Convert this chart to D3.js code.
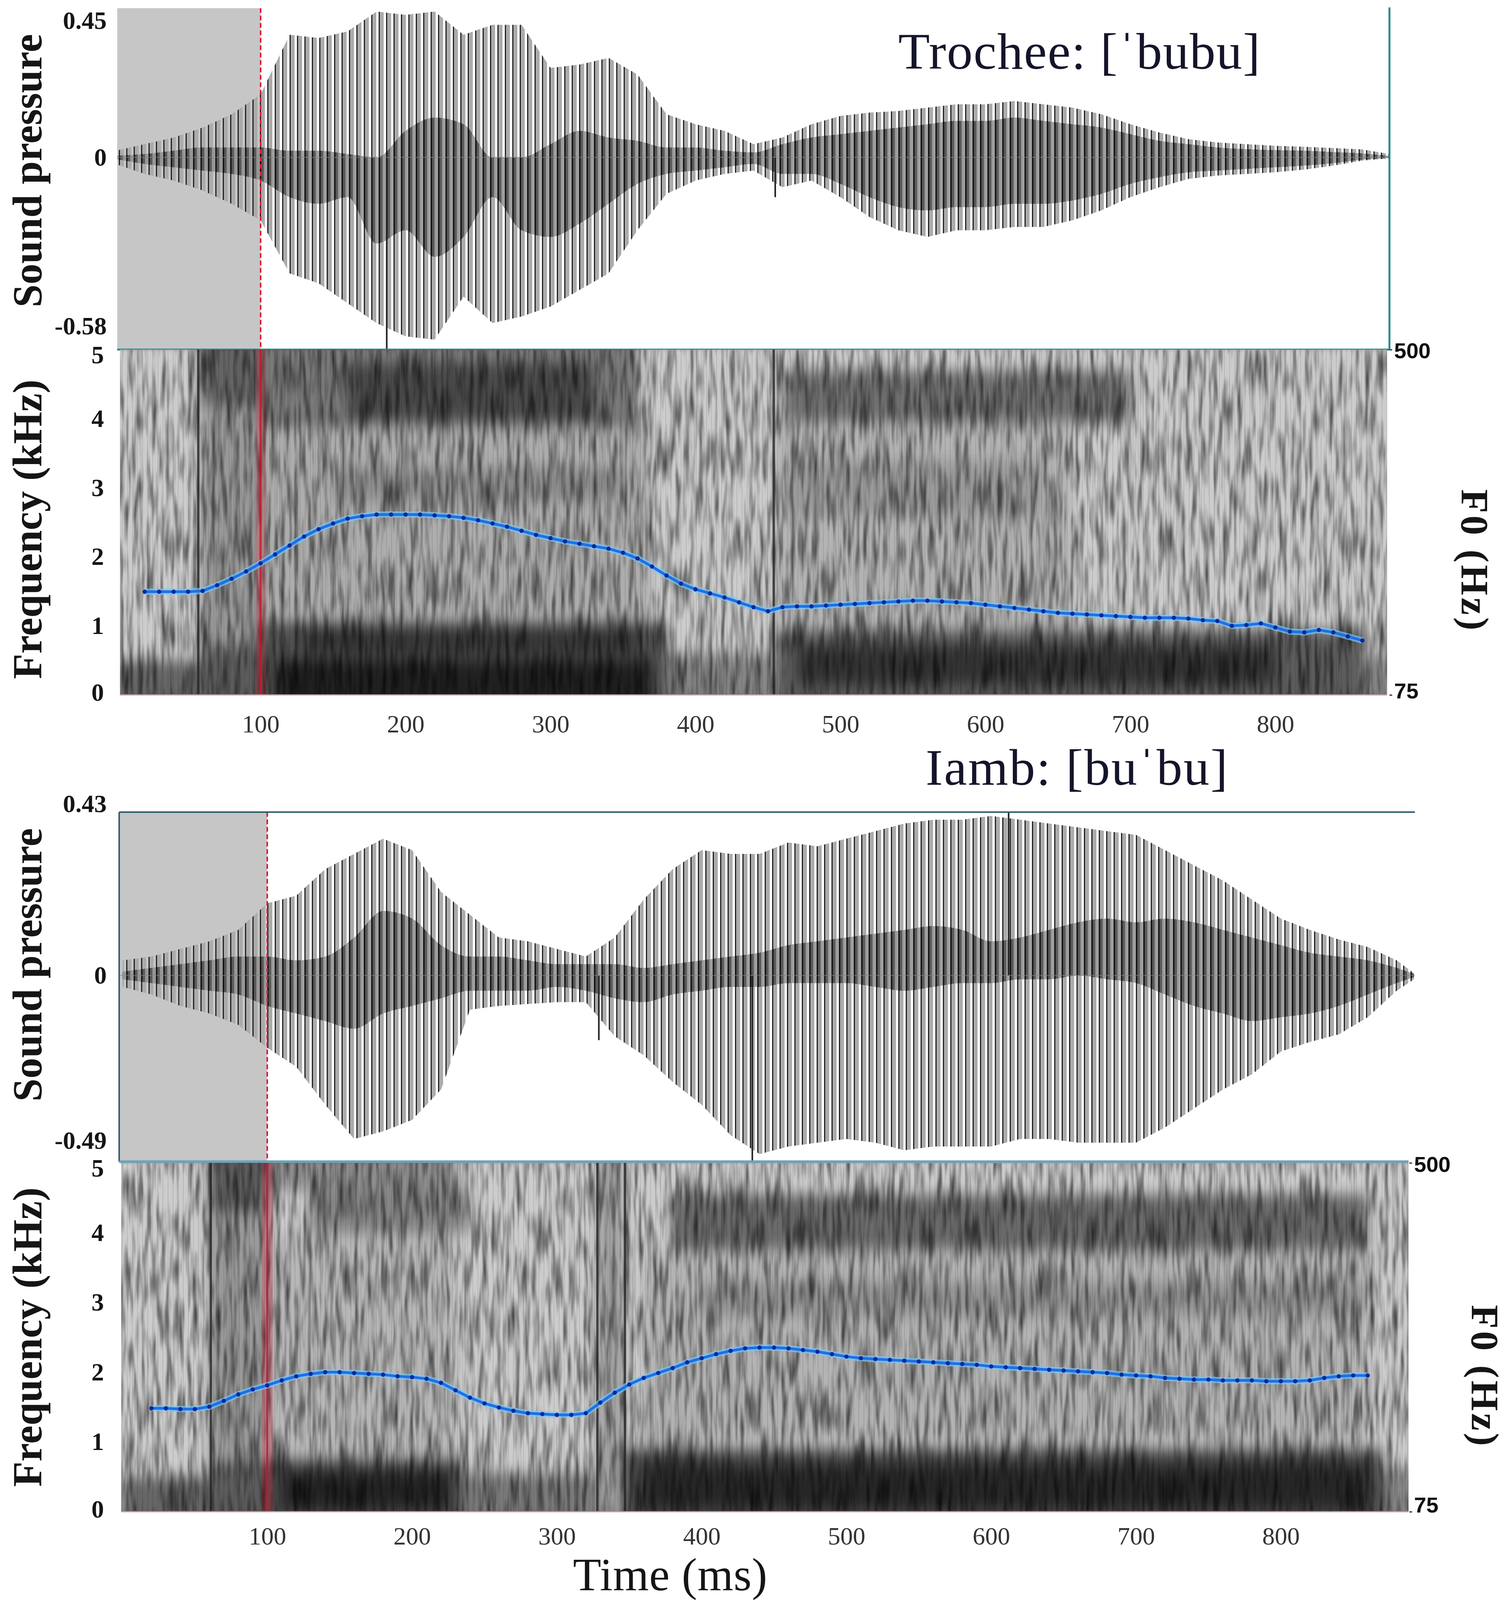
<!DOCTYPE html>
<html>
<head>
<meta charset="utf-8">
<script src="https://cdn.jsdelivr.net/npm/d3@7"></script>
<style>
  body { margin: 0; background: #fff; }
  svg { display: block; }
</style>
</head>
<body>
<script>
// ---------- values ----------
// waveform envelopes (ms, sound pressure), sampled every 20 ms
const trocheeEnvTime = [0,20,40,60,80,100,120,140,160,180,200,220,240,260,280,300,320,340,360,380,400,420,440,460,480,500,520,540,560,580,600,620,640,660,680,700,720,740,760,780,800,820,840,860,879]
const trocheeUpper = [.02,.04,.06,.09,.13,.19,.37,.36,.38,.44,.43,.44,.37,.40,.40,.27,.28,.30,.25,.13,.10,.08,.04,.06,.10,.125,.135,.14,.15,.16,.16,.17,.16,.15,.13,.10,.075,.055,.045,.04,.035,.032,.028,.024,.01]
const trocheeLower = [-.02,-.05,-.07,-.10,-.14,-.19,-.35,-.38,-.44,-.50,-.54,-.55,-.42,-.50,-.48,-.45,-.40,-.35,-.22,-.11,-.07,-.05,-.04,-.09,-.07,-.12,-.18,-.22,-.24,-.22,-.22,-.21,-.21,-.19,-.16,-.12,-.09,-.065,-.055,-.05,-.045,-.037,-.025,-.01,-.003]
const trocheeCoreUpper = [.005,.01,.02,.03,.03,.03,.02,.02,.01,.0,.08,.12,.10,.0,.0,.04,.08,.06,.05,.03,.03,.02,.015,.04,.06,.07,.08,.09,.10,.11,.11,.12,.11,.10,.09,.07,.05,.04,.03,.025,.022,.02,.016,.012,.004]
const trocheeCoreLower = [-.005,-.02,-.03,-.04,-.05,-.07,-.12,-.14,-.12,-.26,-.22,-.30,-.24,-.12,-.22,-.24,-.20,-.14,-.08,-.05,-.04,-.03,-.02,-.05,-.05,-.08,-.12,-.15,-.16,-.15,-.15,-.14,-.14,-.13,-.11,-.08,-.06,-.045,-.04,-.035,-.03,-.025,-.018,-.007,-.002]
const trocheeSpikes = [[187, -0.58], [455, -0.12]]

const iambEnvTime = [0,20,40,60,80,100,120,140,160,180,200,220,240,260,280,300,320,340,360,380,400,420,440,460,480,500,520,540,560,580,600,620,640,660,680,700,720,740,760,780,800,820,840,860,880,892]
const iambUpper = [.04,.05,.07,.09,.12,.19,.21,.28,.32,.36,.33,.22,.16,.10,.09,.07,.05,.10,.20,.28,.33,.32,.32,.35,.34,.36,.38,.40,.41,.41,.42,.41,.40,.39,.38,.37,.33,.29,.25,.20,.15,.12,.095,.075,.04,.006]
const iambLower = [-.03,-.05,-.08,-.10,-.13,-.19,-.24,-.34,-.43,-.41,-.38,-.30,-.09,-.08,-.075,-.07,-.07,-.16,-.21,-.28,-.34,-.42,-.47,-.45,-.44,-.43,-.44,-.46,-.45,-.45,-.45,-.43,-.43,-.44,-.44,-.44,-.40,-.35,-.30,-.26,-.20,-.175,-.155,-.11,-.04,-.01]
const iambCoreUpper = [.01,.02,.03,.04,.05,.05,.04,.05,.10,.17,.15,.08,.05,.05,.04,.03,.03,.03,.02,.03,.04,.05,.06,.08,.09,.10,.11,.12,.13,.12,.09,.10,.12,.14,.15,.14,.15,.14,.12,.10,.08,.06,.05,.04,.02,.004]
const iambCoreLower = [-.01,-.02,-.03,-.04,-.05,-.08,-.10,-.12,-.14,-.10,-.08,-.06,-.04,-.04,-.04,-.03,-.04,-.06,-.07,-.05,-.04,-.03,-.03,-.02,-.02,-.02,-.03,-.04,-.03,-.02,-.02,-.01,-.01,-.0,-.01,-.02,-.05,-.08,-.10,-.12,-.11,-.10,-.08,-.05,-.02,-.004]
const iambSpikes = [[435, -0.49], [612, 0.43], [329, -0.17]]

// F0 contours (ms, Hz), one pitch frame every 10 ms
const trocheeF0Time = [20,30,40,50,60,70,80,90,100,110,120,130,140,150,160,170,180,190,200,210,220,230,240,250,260,270,280,290,300,310,320,330,340,350,360,370,380,390,400,410,420,430,440,450,460,470,480,490,500,510,520,530,540,550,560,570,580,590,600,610,620,630,640,650,660,670,680,690,700,710,720,730,740,750,760,770,780,790,800,810,820,830,840,850,860]
const trocheeF0 = [202,202,202,202,203,210,218,227,237,248,259,270,279,286,292,295,297,297,297,297,296,295,293,290,286,282,277,272,268,264,261,258,255,250,243,233,222,212,205,200,195,189,183,178,183,184,184,185,186,187,188,189,190,191,191,190,189,188,186,184,182,180,178,176,175,174,173,172,171,170,170,170,169,167,166,160,161,163,158,153,152,155,152,147,142]
const iambF0Time = [20,30,40,50,60,70,80,90,100,110,120,130,140,150,160,170,180,190,200,210,220,230,240,250,260,270,280,290,300,310,320,330,340,350,360,370,380,390,400,410,420,430,440,450,460,470,480,490,500,510,520,530,540,550,560,570,580,590,600,610,620,630,640,650,660,670,680,690,700,710,720,730,740,750,760,770,780,790,800,810,820,830,840,850,860]
const iambF0 = [201,201,200,200,203,210,218,224,229,235,240,243,245,245,244,243,242,240,239,237,232,223,214,207,202,198,195,194,193,193,195,208,220,230,238,244,250,257,262,267,271,274,275,275,274,272,270,267,264,262,261,260,259,258,257,256,255,254,252,251,250,249,248,247,246,245,244,242,241,240,238,237,236,236,235,235,235,234,234,234,235,238,240,241,241]

// spectrogram energy: [from ms, to ms, low kHz, high kHz, darkness]
const trocheeBands = [
  [0, 58, 0, 0.5, 0.5], [58, 100, 0, 5, 0.25], [58, 100, 4.2, 5, 0.35], [58, 100, 0, 0.7, 0.4],
  [100, 380, 0, 1.05, 0.6], [110, 370, 0, 0.5, 0.6], [130, 360, 0.6, 0.95, 0.35],
  [100, 370, 1.0, 4.0, 0.15], [100, 360, 3.9, 5, 0.4], [160, 330, 4.0, 4.8, 0.4],
  [150, 350, 2.8, 3.3, 0.18], [380, 453, 0, 0.6, 0.35],
  [455, 860, 0, 0.95, 0.55], [470, 800, 0.15, 0.7, 0.45], [455, 660, 1.0, 3.9, 0.12],
  [460, 700, 3.95, 4.7, 0.45], [460, 640, 2.6, 3.4, 0.14], [860, 880, 0, 0.6, 0.35]
]
const iambBands = [
  [0, 60, 0, 0.5, 0.5], [60, 100, 0, 5, 0.25], [60, 100, 4.3, 5, 0.4], [60, 100, 0, 0.7, 0.4],
  [100, 235, 0, 0.75, 0.65], [110, 225, 0.05, 0.55, 0.5], [100, 230, 0.75, 4.0, 0.1],
  [130, 240, 4.0, 4.6, 0.35], [100, 230, 4.6, 5, 0.3], [235, 328, 0, 0.55, 0.4],
  [328, 346, 0, 5, 0.22], [346, 870, 0, 0.9, 0.65], [360, 860, 0.05, 0.65, 0.45],
  [360, 860, 1.0, 3.7, 0.12], [380, 860, 3.75, 4.55, 0.48], [400, 860, 2.8, 3.3, 0.18],
  [870, 892, 0, 0.6, 0.35]
]
const trocheeBursts = [57, 454]
const iambBursts = [61, 328, 347]

const timeTicks = [100, 200, 300, 400, 500, 600, 700, 800]
const kHzTicks = [0, 1, 2, 3, 4, 5]
const f0Ticks = [75, 500]

// ---------- page ----------
const W = 3862, H = 4102
const serif = "'Liberation Serif', 'Times New Roman', serif"
const sans = "'Liberation Sans', Arial, sans-serif"

const svg = d3.select("body").append("svg")
    .attr("width", W)
    .attr("height", H)
svg.append("rect").attr("width", W).attr("height", H).attr("fill", "#fff")

const defs = svg.append("defs")

// waveform stroke textures
let pl = defs.append("pattern").attr("id", "wvLight")
    .attr("patternUnits", "userSpaceOnUse").attr("width", 19).attr("height", 10)
pl.append("rect").attr("x", 0).attr("width", 3).attr("height", 10).attr("fill", "#222")
pl.append("rect").attr("x", 3).attr("width", 10).attr("height", 10).attr("fill", "#ababab")
let pd = defs.append("pattern").attr("id", "wvDark")
    .attr("patternUnits", "userSpaceOnUse").attr("width", 19).attr("height", 10)
pd.append("rect").attr("width", 19).attr("height", 10).attr("fill", "#8f8f8f")
pd.append("rect").attr("x", 0).attr("width", 4).attr("height", 10).attr("fill", "#111")
pd.append("rect").attr("x", 4).attr("width", 6).attr("height", 10).attr("fill", "#4a4a4a")

// spectrogram pulse striations
let ps = defs.append("pattern").attr("id", "striae")
    .attr("patternUnits", "userSpaceOnUse").attr("width", 13).attr("height", 10)
ps.append("rect").attr("width", 2).attr("height", 10).attr("fill", "#000").attr("opacity", 0.1)

// spectrogram speckle: soft vertical streaks
let nf = defs.append("filter").attr("id", "specNoise")
    .attr("x", 0).attr("y", 0).attr("width", 1).attr("height", 1)
    .attr("color-interpolation-filters", "sRGB")
nf.append("feTurbulence").attr("type", "fractalNoise")
    .attr("baseFrequency", "0.085 0.009").attr("numOctaves", 2).attr("seed", 11)
nf.append("feColorMatrix").attr("type", "matrix")
    .attr("values", "2.2 0 0 0 -0.3  2.2 0 0 0 -0.3  2.2 0 0 0 -0.3  0 0 0 0 0.5")
nf.append("feGaussianBlur").attr("stdDeviation", "1.2 3")

defs.append("filter").attr("id", "bandBlur")
    .attr("x", -0.1).attr("y", -0.1).attr("width", 1.2).attr("height", 1.2)
  .append("feGaussianBlur").attr("stdDeviation", "16 18")

const panels = [
  {
    id: "tro", envT: trocheeEnvTime, up: trocheeUpper, lo: trocheeLower,
    cUp: trocheeCoreUpper, cLo: trocheeCoreLower, spikes: trocheeSpikes,
    f0T: trocheeF0Time, f0: trocheeF0, bands: trocheeBands, bursts: trocheeBursts,
    ampDomain: [-0.58, 0.45], tickPx: [667, 3264],
    wave: {x0: 300, x1: 3556, y0: 21, y1: 895},
    spec: {x0: 307, x1: 3550, y0: 895, y1: 1779},
    ampShift: {top: 32, bottom: -60}, f0Shift: {top: 4, bottom: -9},
    xTickY: 1853, rightAxisX: 3556,
    title: {text: "Trochee: [ˈbubu]", x: 2299, y: 176, len: 926},
    soundY: 437, freqY: 1355, f0Label: [3774, 1436]
  },
  {
    id: "iam", envT: iambEnvTime, up: iambUpper, lo: iambLower,
    cUp: iambCoreUpper, cLo: iambCoreLower, spikes: iambSpikes,
    f0T: iambF0Time, f0: iambF0, bands: iambBands, bursts: iambBursts,
    ampDomain: [-0.49, 0.43], tickPx: [684, 3278],
    wave: {x0: 305, x1: 3621, y0: 2079, y1: 2974},
    spec: {x0: 310, x1: 3605, y0: 2977, y1: 3870},
    ampShift: {top: -21, bottom: -54}, f0Shift: {top: 5, bottom: -16},
    xTickY: 3932, rightAxisX: 3607,
    title: {text: "Iamb: [buˈbu]", x: 2369, y: 2009, len: 773},
    soundY: 2470, freqY: 3423, f0Label: [3800, 3524]
  }
]

panels.forEach(drawPanel)

// x axis title
svg.append("text")
    .attr("x", 1715).attr("y", 4071)
    .attr("text-anchor", "middle")
    .attr("font-family", serif).attr("font-size", 118)
    .attr("textLength", 497).attr("lengthAdjust", "spacing")
    .attr("fill", "#151515")
    .text("Time (ms)")

function drawPanel(p) {
  const g = svg.append("g")
  const x = d3.scaleLinear().domain([100, 800]).range(p.tickPx)
  const yA = d3.scaleLinear().domain(p.ampDomain).range([p.wave.y1, p.wave.y0])
  const yK = d3.scaleLinear().domain([0, 5]).range([p.spec.y1, p.spec.y0])
  const yF = d3.scaleLinear().domain([75, 500]).range([p.spec.y1, p.spec.y0])

  // ----- waveform -----
  defs.append("clipPath").attr("id", "cw" + p.id).append("rect")
      .attr("x", p.wave.x0).attr("y", p.wave.y0)
      .attr("width", p.wave.x1 - p.wave.x0).attr("height", p.wave.y1 - p.wave.y0)
  const wg = g.append("g").attr("clip-path", "url(#cw" + p.id + ")")

  wg.append("rect")
      .attr("x", p.wave.x0).attr("y", p.wave.y0)
      .attr("width", x(100) - p.wave.x0).attr("height", p.wave.y1 - p.wave.y0)
      .attr("fill", "#c6c6c6")

  const rows = p.envT.map((t, i) => ({t: t, u: p.up[i], l: p.lo[i], cu: p.cUp[i], cl: p.cLo[i]}))
  wg.append("path").datum(rows)
      .attr("d", d3.area().x(d => x(d.t)).y0(d => yA(d.l)).y1(d => yA(d.u)))
      .attr("fill", "url(#wvLight)")
  wg.append("path").datum(rows)
      .attr("d", d3.area().curve(d3.curveMonotoneX).x(d => x(d.t)).y0(d => yA(d.cl)).y1(d => yA(d.cu)))
      .attr("fill", "url(#wvDark)").attr("opacity", 0.85)

  wg.selectAll(".spike").data(p.spikes).join("line")
      .attr("x1", d => x(d[0])).attr("x2", d => x(d[0]))
      .attr("y1", yA(0)).attr("y2", d => yA(d[1]))
      .attr("stroke", "#202020").attr("stroke-width", 4)

  wg.append("line")
      .attr("x1", p.wave.x0).attr("x2", p.wave.x1)
      .attr("y1", yA(0)).attr("y2", yA(0))
      .attr("stroke", "#6e8e98").attr("stroke-width", 2).attr("opacity", 0.7)

  wg.append("line")
      .attr("x1", x(100)).attr("x2", x(100))
      .attr("y1", p.wave.y0).attr("y2", p.wave.y1)
      .attr("stroke", "#e3173c").attr("stroke-width", 4)
      .attr("stroke-dasharray", "12,7")

  // frame
  if (p.id === "tro") {
    g.append("line").attr("x1", p.wave.x1).attr("x2", p.wave.x1)
        .attr("y1", p.wave.y0 - 2).attr("y2", p.wave.y1)
        .attr("stroke", "#2b8a8a").attr("stroke-width", 5)
    g.append("line").attr("x1", p.wave.x0).attr("x2", p.wave.x1)
        .attr("y1", p.wave.y1).attr("y2", p.wave.y1)
        .attr("stroke", "#2b8a8a").attr("stroke-width", 5)
  } else {
    g.append("line").attr("x1", p.wave.x0).attr("x2", p.wave.x1)
        .attr("y1", p.wave.y0).attr("y2", p.wave.y0)
        .attr("stroke", "#33606e").attr("stroke-width", 4)
    g.append("line").attr("x1", p.wave.x0).attr("x2", p.wave.x0)
        .attr("y1", p.wave.y0).attr("y2", p.wave.y1)
        .attr("stroke", "#33606e").attr("stroke-width", 4)
    g.append("line").attr("x1", p.wave.x0).attr("x2", p.spec.x1)
        .attr("y1", p.wave.y1).attr("y2", p.wave.y1)
        .attr("stroke", "#6fa2b6").attr("stroke-width", 7)
  }

  // amplitude labels
  const ampAxis = g.append("g")
      .attr("transform", "translate(273,0)")
      .call(d3.axisLeft(yA).tickValues([p.ampDomain[1], 0, p.ampDomain[0]])
          .tickSize(0).tickPadding(0)
          .tickFormat(d => d === 0 ? "0" : d.toFixed(2)))
  ampAxis.select(".domain").remove()
  ampAxis.attr("font-family", serif).attr("font-size", 64).attr("font-weight", "bold")
  ampAxis.selectAll("text").attr("fill", "#151515")
      .attr("y", d => d === 0 ? 0 : (d > 0 ? p.ampShift.top : p.ampShift.bottom))

  // ----- spectrogram -----
  defs.append("clipPath").attr("id", "cs" + p.id).append("rect")
      .attr("x", p.spec.x0).attr("y", p.spec.y0)
      .attr("width", p.spec.x1 - p.spec.x0).attr("height", p.spec.y1 - p.spec.y0)
  const sg = g.append("g").attr("clip-path", "url(#cs" + p.id + ")")

  sg.append("rect")
      .attr("x", p.spec.x0).attr("y", p.spec.y0)
      .attr("width", p.spec.x1 - p.spec.x0).attr("height", p.spec.y1 - p.spec.y0)
      .attr("fill", "#999")
  sg.append("rect")
      .attr("x", p.spec.x0).attr("y", p.spec.y0)
      .attr("width", p.spec.x1 - p.spec.x0).attr("height", p.spec.y1 - p.spec.y0)
      .attr("fill", "#fff").attr("filter", "url(#specNoise)")

  sg.append("g").attr("filter", "url(#bandBlur)")
    .selectAll("rect").data(p.bands).join("rect")
      .attr("x", d => x(d[0]))
      .attr("width", d => x(d[1]) - x(d[0]))
      .attr("y", d => yK(d[3]) - (d[3] >= 5 ? 40 : 0))
      .attr("height", d => yK(d[2]) - yK(d[3]) + (d[2] <= 0 ? 40 : 0) + (d[3] >= 5 ? 40 : 0))
      .attr("fill", "#000")
      .attr("opacity", d => d[4])

  sg.append("rect")
      .attr("x", p.spec.x0).attr("y", p.spec.y0)
      .attr("width", p.spec.x1 - p.spec.x0).attr("height", p.spec.y1 - p.spec.y0)
      .attr("fill", "url(#striae)")

  sg.selectAll(".burst").data(p.bursts).join("line")
      .attr("x1", d => x(d)).attr("x2", d => x(d))
      .attr("y1", p.spec.y0).attr("y2", p.spec.y1)
      .attr("stroke", "#222").attr("stroke-width", 6).attr("opacity", 0.8)

  // red cursor
  sg.append("rect")
      .attr("x", x(100) - 14).attr("y", p.spec.y0)
      .attr("width", 28).attr("height", p.spec.y1 - p.spec.y0)
      .attr("fill", "#c8283a").attr("opacity", 0.28)
  sg.append("line")
      .attr("x1", x(100)).attr("x2", x(100))
      .attr("y1", p.spec.y0).attr("y2", p.spec.y1)
      .attr("stroke", "#c4142c").attr("stroke-width", 5).attr("opacity", 0.8)

  // F0
  const pts = p.f0T.map((t, i) => ({t: t, hz: p.f0[i]}))
  const line = d3.line().x(d => x(d.t)).y(d => yF(d.hz))
  sg.append("path").datum(pts).attr("d", line)
      .attr("fill", "none").attr("stroke", "#7cc4f6").attr("stroke-width", 16)
      .attr("stroke-linejoin", "round").attr("opacity", 0.7)
  sg.append("path").datum(pts).attr("d", line)
      .attr("fill", "none").attr("stroke", "#1a72e6").attr("stroke-width", 7)
      .attr("stroke-linejoin", "round")
  sg.selectAll(".f0dot").data(pts).join("circle")
      .attr("cx", d => x(d.t)).attr("cy", d => yF(d.hz))
      .attr("r", 5.5).attr("fill", "#0b2a9a")

  g.append("line")
      .attr("x1", p.spec.x0).attr("x2", p.spec.x1)
      .attr("y1", p.spec.y1).attr("y2", p.spec.y1)
      .attr("stroke", "#c4a3aa").attr("stroke-width", 3)

  // kHz labels
  const kAxis = g.append("g")
      .attr("transform", "translate(266,0)")
      .call(d3.axisLeft(yK).tickValues(kHzTicks).tickSize(0).tickPadding(0).tickFormat(d3.format("d")))
  kAxis.select(".domain").remove()
  kAxis.attr("font-family", serif).attr("font-size", 64).attr("font-weight", "bold")
  kAxis.selectAll("text").attr("fill", "#151515")
      .attr("y", d => d === 5 ? 14 : (d === 0 ? -6 : 0))

  // F0 range labels
  const fAxis = g.append("g")
      .attr("transform", "translate(" + p.rightAxisX + ",0)")
      .call(d3.axisRight(yF).tickValues(f0Ticks).tickSize(7).tickPadding(5))
  fAxis.select(".domain").remove()
  fAxis.attr("font-family", sans).attr("font-size", 56).attr("font-weight", "bold")
  fAxis.selectAll("line").attr("stroke", "#333").attr("stroke-width", 3)
  fAxis.selectAll("text").attr("fill", "#111")
      .attr("y", d => d === 500 ? p.f0Shift.top : p.f0Shift.bottom)

  // time ticks
  const xAxis = g.append("g")
      .attr("transform", "translate(0," + p.xTickY + ")")
      .call(d3.axisBottom(x).tickValues(timeTicks).tickSize(0).tickPadding(0))
  xAxis.select(".domain").remove()
  xAxis.attr("font-family", serif).attr("font-size", 64)
  xAxis.selectAll("text").attr("fill", "#333").attr("dy", "0.35em")

  // titles and axis names
  g.append("text")
      .attr("x", p.title.x).attr("y", p.title.y)
      .attr("font-family", serif).attr("font-size", 132)
      .attr("textLength", p.title.len).attr("lengthAdjust", "spacing")
      .attr("fill", "#14142a")
      .text(p.title.text)

  g.append("text")
      .attr("transform", "translate(70," + p.soundY + ") rotate(-90)")
      .attr("text-anchor", "middle").attr("dominant-baseline", "central")
      .attr("font-family", serif).attr("font-size", 106).attr("font-weight", "bold")
      .attr("fill", "#151515")
      .text("Sound pressure")

  g.append("text")
      .attr("transform", "translate(70," + p.freqY + ") rotate(-90)")
      .attr("text-anchor", "middle").attr("dominant-baseline", "central")
      .attr("font-family", serif).attr("font-size", 106).attr("font-weight", "bold")
      .attr("fill", "#151515")
      .text("Frequency (kHz)")

  g.append("text")
      .attr("transform", "translate(" + p.f0Label[0] + "," + p.f0Label[1] + ") rotate(90)")
      .attr("text-anchor", "middle").attr("dominant-baseline", "central")
      .attr("font-family", serif).attr("font-size", 100).attr("font-weight", "bold")
      .attr("letter-spacing", 6)
      .attr("fill", "#151515")
      .text("F0 (Hz)")
}
</script>
</body>
</html>
